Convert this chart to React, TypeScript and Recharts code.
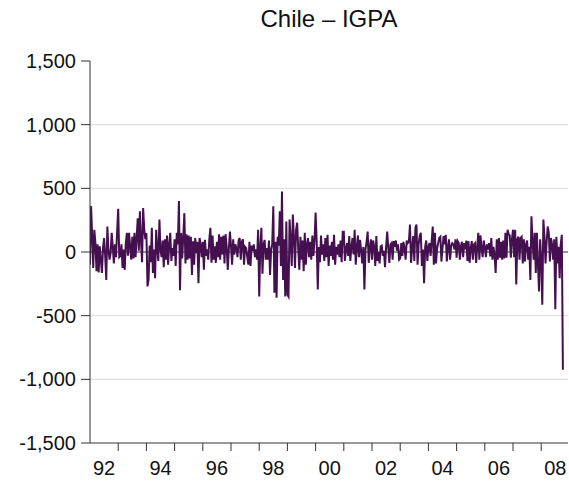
import { LineChart, Line, XAxis, YAxis, ReferenceLine } from "recharts";

// biweekly changes of the IGPA index, 26 readings a year (2008 stops in October)
const startYears = [1992, 1993, 1994, 1995, 1996, 1997, 1998, 1999, 2000, 2001, 2002, 2003, 2004, 2005, 2006, 2007, 2008];

const y1992 = [-100, 360, 130, -125, 175, 70, -150, 60, -160, 45, -60, -165, 30, 110, -30, -220, 200, 20, -60, -10, 150, 40, -90, 60, -40, 160];
const y1993 = [340, -40, -30, 60, -125, 20, -140, 70, 150, -30, 150, 40, -60, 120, -50, 150, -40, 110, 265, 10, 320, 90, -80, 345, 180, 100];
const y1994 = [150, -270, -220, 50, -80, 190, -165, 20, -205, 175, 20, -70, 255, 20, -40, 90, -120, 100, -60, 130, -100, 60, 150, -70, 30, -30];
const y1995 = [100, -110, 150, 60, 400, -300, 150, -50, 120, 305, -90, 140, -60, 130, -50, 120, -180, 85, -100, 110, -10, 80, -245, 110, 60, -40];
const y1996 = [80, -140, 95, -30, 20, -60, 100, 190, -85, 130, -60, 45, -85, 80, -40, 140, -60, 120, -20, 130, -90, 140, 40, -140, 20, 160];
const y1997 = [50, -100, 100, -20, 60, 30, -40, 90, 110, -60, 80, 100, -100, 40, 30, -40, -100, 80, -110, 50, 10, 60, -40, 20, -60, 175];
const y1998 = [-350, 40, 190, -170, 60, 95, -60, 30, -60, 90, -180, 20, 60, 360, -320, 80, -360, 120, 50, 320, -110, 475, -220, 100, -350, 240];
const y1999 = [-335, -350, 255, 100, -110, 295, 120, -125, 175, 230, 20, -140, 120, -60, 90, -150, 150, -100, 60, 110, -40, 80, -60, 130, -30, 90];
const y2000 = [310, 80, -295, 40, -80, 130, -20, 60, -70, 110, -40, 135, -110, 50, -30, 80, -60, 135, -100, 40, -20, 60, -40, 90, -80, 160];
const y2001 = [160, -70, 20, 70, -30, 125, -70, 40, 110, -20, 175, -100, 30, 130, -40, 95, 10, -90, 40, -295, 20, 80, 160, -85, 40, 100];
const y2002 = [-60, 90, 45, -110, 125, -70, 0, -90, 45, 50, -30, 10, -120, 40, 160, 30, -85, 60, 70, -60, 85, 40, 90, 10, 60, -60];
const y2003 = [-50, 70, -30, 80, 30, -60, 90, 70, 80, 215, -85, 30, 125, -70, 190, 215, -100, 60, 125, 150, -110, 20, -245, 40, 90, -70];
const y2004 = [40, 70, -30, 85, 200, -100, 150, -90, 30, 70, 110, 120, -75, 30, 125, 60, 135, -75, 40, 100, -60, 50, 70, 60, 20, 100];
const y2005 = [-45, 85, 70, -60, 50, 80, -40, 70, 20, 90, -70, 85, -85, 30, 85, -60, 60, 70, -85, 40, 150, -60, 130, 30, -40, 90];
const y2006 = [40, -40, 60, 20, 70, -35, 110, -60, 40, -30, -165, 100, -60, 110, -45, 80, -60, 90, -50, 150, -45, 175, 140, 130, -45, 100];
const y2007 = [175, -40, 175, -255, 100, 120, -60, 110, 120, -90, 100, -75, 60, 90, -60, 40, -220, 280, 90, -60, 150, -165, 150, -100, -310, 100];
const y2008 = [-60, -415, 255, 120, -90, 80, 200, 150, -75, 110, 60, -60, 100, -450, 120, -90, 40, -205, 60, 135, -925];

const byYear = [y1992, y1993, y1994, y1995, y1996, y1997, y1998, y1999, y2000, y2001, y2002, y2003, y2004, y2005, y2006, y2007, y2008];

const yTicks = [-1500, -1000, -500, 0, 500, 1000, 1500];
const gridValues = [-1000, -500, 500, 1000];
const xTicks = [1992, 1993, 1994, 1995, 1996, 1997, 1998, 1999, 2000, 2001, 2002, 2003, 2004, 2005, 2006, 2007, 2008];
const labelYears = [1992, 1994, 1996, 1998, 2000, 2002, 2004, 2006, 2008];

const data = byYear.flatMap((vals, k) =>
  vals.map((v, i) => ({ t: startYears[k] + i / 26, v }))
);

const W = 569;
const H = 482;
const LEFT = 90;
const X_MAX = 2008.95;
const yearPx = (W - LEFT - 1) / (X_MAX - 1992);
const font = "Arial, 'Liberation Sans', sans-serif";
const axisColor = "#333";

function YearTick(props: any) {
  const { x, y, payload } = props;
  const yr = payload.value as number;
  return (
    <g>
      {yr !== 1992 && <line x1={x} y1={y} x2={x} y2={y + 8} stroke={axisColor} />}
      {labelYears.includes(yr) && (
        <text x={x + yearPx / 2} y={y + 32} textAnchor="middle" fontSize={20} fontFamily={font} fill="#111">
          {String(yr).slice(2)}
        </text>
      )}
    </g>
  );
}

export default function App() {
  return (
    <div style={{ position: "absolute", left: 0, top: 0, width: W, height: H, background: "#fff" }}>
      <div
        style={{
          position: "absolute",
          left: LEFT,
          width: W - LEFT - 1,
          top: 5,
          textAlign: "center",
          fontFamily: font,
          fontSize: 24,
          color: "#111",
        }}
      >
        Chile – IGPA
      </div>
      <LineChart width={W} height={H} data={data} margin={{ top: 61, right: 1, bottom: 0, left: 0 }}>
        {gridValues.map((g) => (
          <ReferenceLine key={g} y={g} stroke="#d9d9d9" strokeWidth={1} />
        ))}
        <ReferenceLine y={0} stroke="#333" strokeWidth={1} />
        <XAxis
          dataKey="t"
          type="number"
          domain={[1992, X_MAX]}
          ticks={xTicks}
          interval={0}
          allowDataOverflow
          height={39}
          tickSize={0}
          tickMargin={0}
          tickLine={false}
          axisLine={{ stroke: axisColor }}
          tick={<YearTick />}
        />
        <YAxis
          type="number"
          domain={[-1500, 1500]}
          ticks={yTicks}
          interval={0}
          width={90}
          tickSize={9}
          tickMargin={5}
          axisLine={{ stroke: axisColor }}
          tickLine={{ stroke: axisColor }}
          tick={{ fontSize: 20, fontFamily: font, fill: "#111" }}
          tickFormatter={(v: number) => v.toLocaleString("en-US")}
        />
        <Line
          type="linear"
          dataKey="v"
          stroke="#45104f"
          strokeWidth={2}
          dot={false}
          isAnimationActive={false}
        />
      </LineChart>
    </div>
  );
}
